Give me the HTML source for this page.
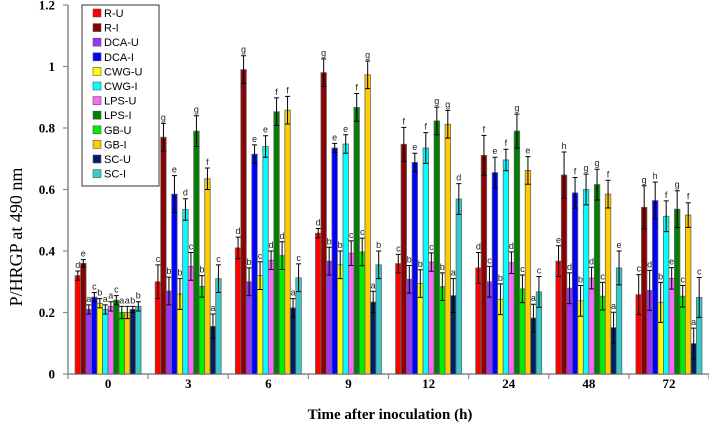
<!DOCTYPE html>
<html><head><meta charset="utf-8"><style>
body{margin:0;background:#fff;}
svg{display:block;}
</style></head><body>
<svg id="chart" width="709" height="427" xmlns="http://www.w3.org/2000/svg">
<g id="axes"></g>
<g id="bars"></g>
<g id="legend"></g>
</svg>
<script>
const categories = ["0","3","6","9","12","24","48","72"];
const seriesNames = ["R-U","R-I","DCA-U","DCA-I","CWG-U","CWG-I","LPS-U","LPS-I","GB-U","GB-I","SC-U","SC-I"];
const seriesColors = ["#ff0000","#8b0000","#9933ff","#0000ff","#ffff00","#00ffff","#ff66ff","#008000","#00ee00","#ffcc00","#002060","#33cccc"];
const values = [
 [0.32,0.36,0.21,0.25,0.23,0.21,0.22,0.24,0.20,0.20,0.21,0.22],
 [0.30,0.77,0.27,0.585,0.26,0.535,0.35,0.79,0.285,0.635,0.155,0.31],
 [0.41,0.99,0.30,0.715,0.32,0.74,0.37,0.853,0.385,0.858,0.215,0.313],
 [0.458,0.98,0.367,0.735,0.355,0.748,0.393,0.867,0.397,0.973,0.234,0.355],
 [0.359,0.747,0.308,0.688,0.294,0.735,0.364,0.823,0.284,0.812,0.255,0.569],
 [0.345,0.711,0.30,0.655,0.243,0.696,0.362,0.79,0.277,0.662,0.182,0.267],
 [0.367,0.647,0.279,0.589,0.238,0.60,0.312,0.616,0.253,0.585,0.151,0.345],
 [0.258,0.542,0.272,0.564,0.233,0.513,0.311,0.536,0.253,0.517,0.099,0.249]
];
const errors = [
 [.015,.012,.015,.015,.015,.015,.015,.015,.02,.02,.01,.015],
 [.055,.045,.045,.06,.05,.035,.045,.05,.035,.035,.04,.045],
 [.035,.045,.045,.03,.045,.035,.03,.045,.045,.045,.03,.045],
 [.015,.045,.045,.015,.045,.03,.04,.045,.045,.045,.035,.045],
 [.03,.055,.045,.03,.045,.05,.03,.045,.045,.045,.055,.05],
 [.05,.065,.05,.05,.05,.035,.035,.055,.045,.045,.045,.05],
 [.05,.075,.05,.05,.05,.05,.035,.05,.045,.045,.05,.055],
 [.065,.07,.065,.06,.065,.05,.035,.06,.035,.04,.05,.065]
];
const letters = [
 "d e a c b a a c a a b b","c g b e b d c g b f a c","d g b e c e d f d f a c","d g b e b e c f c g a b",
 "c f b e b f c g b g a d","d f c e b f d g c e a c","e h d f b g d g c f a e","c g d h b f e g c f a c"
];
const yTicks = [0,0.2,0.4,0.6,0.8,1,1.2];
const yTickLabels = ["0","0.2","0.4","0.6","0.8","1","1.2"];

const NS="http://www.w3.org/2000/svg";
const X0=68, X1=709, Y0=374, YTOP=5, YMAX=1.2;
const catW=(X1-X0)/categories.length;
const barW=5.5;
function yScale(v){return Y0-(v/YMAX)*(Y0-YTOP);}
function xBar(c,s){return X0+c*catW+(catW-barW*seriesNames.length)/2+s*barW;}
function mk(tag,attrs,parent){const e=document.createElementNS(NS,tag);for(const k in attrs)e.setAttribute(k,attrs[k]);parent.appendChild(e);return e;}
const axes=document.getElementById('axes'),bars=document.getElementById('bars'),legend=document.getElementById('legend');

let l=mk('line',{x1:X0,y1:YTOP,x2:X0,y2:Y0,stroke:'#888','stroke-width':1.5},axes);


l=mk('line',{x1:X0,y1:Y0,x2:X1,y2:Y0,stroke:'#888','stroke-width':1.5},axes);


yTicks.forEach((v,i)=>{
 const y=yScale(v);
 mk('line',{x1:X0-5,y1:y,x2:X0,y2:y,stroke:'#888','stroke-width':1.2},axes);
 const t=mk('text',{x:X0-13,y:y+4.5,'text-anchor':'end','font-family':'Liberation Serif, serif','font-weight':'bold','font-size':13},axes);
 t.textContent=yTickLabels[i];
 
 
});
for(let c=0;c<=categories.length;c++){
 const x=X0+c*catW;
 mk('line',{x1:x,y1:Y0,x2:x,y2:Y0+5,stroke:'#888','stroke-width':1.2},axes);
}
categories.forEach((cat,c)=>{
 const t=mk('text',{x:X0+(c+0.5)*catW,y:388,'text-anchor':'middle','font-family':'Liberation Serif, serif','font-weight':'bold','font-size':13},axes);
 t.textContent=cat;
 
 
});
let t=mk('text',{x:390,y:419,'text-anchor':'middle','font-family':'Liberation Serif, serif','font-weight':'bold','font-size':15},axes);
t.textContent='Time after inoculation (h)';


t=mk('text',{x:0,y:0,transform:'translate(22,237) rotate(-90)','text-anchor':'middle','font-family':'Liberation Serif, serif','font-size':18},axes);
t.textContent='P/HRGP at 490 nm';



values.forEach((row,c)=>{
 const lets=letters[c].split(' ');
 row.forEach((v,s)=>{
  const x=xBar(c,s),y=yScale(v);
  const r=mk('rect',{x:x,y:y,width:barW,height:Y0-y,fill:seriesColors[s],stroke:'#666','stroke-width':0.8},bars);
  
  
  const cx=x+barW/2, e=errors[c][s], yt=yScale(v+e), yb=yScale(v-e);
  const eb=mk('path',{d:`M${cx},${yb}V${yt}M${cx-2.5},${yt}H${cx+2.5}M${cx-2.5},${yb}H${cx+2.5}`,stroke:'#000','stroke-width':1,fill:'none'},bars);
  
  
  const lt=mk('text',{x:cx,y:yt-3,'text-anchor':'middle','font-family':'Liberation Sans, sans-serif','font-size':9,fill:'#222'},bars);
  lt.textContent=lets[s];
  
  
 });
});

const lb=mk('rect',{x:82,y:5,width:77,height:181,fill:'#fff',stroke:'#333','stroke-width':1},legend);


seriesNames.forEach((n,s)=>{
 const y=13+s*14.6;
 const sw=mk('rect',{x:93,y:y-4,width:8,height:8,fill:seriesColors[s],stroke:'#555','stroke-width':0.6},legend);
 
 
 const tx=mk('text',{x:104,y:y+4,'font-family':'Liberation Sans, sans-serif','font-size':11},legend);
 tx.textContent=n;
 
 
});
</script>
</body></html>
